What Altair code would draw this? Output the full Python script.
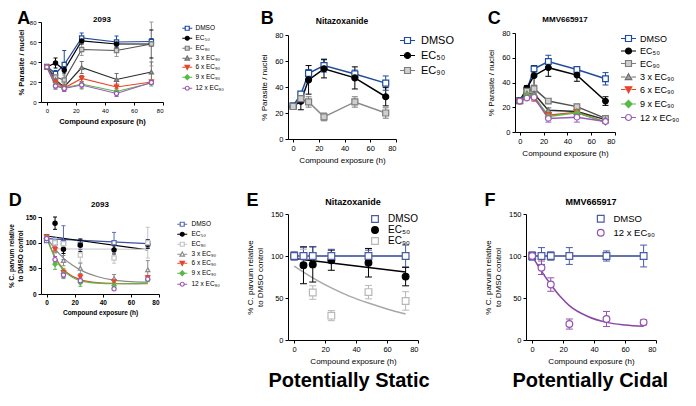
import altair as alt
import pandas as pd

FONT = "Liberation Sans"
T = [0, 6, 12, 24, 48, 72]
LABELS = {"DMSO": "DMSO", "EC50": "EC₅₀", "EC90": "EC₉₀", "3x": "3 x EC₉₀",
          "6x": "6 x EC₉₀", "9x": "9 x EC₉₀", "12x": "12 x EC₉₀"}

# ---------------- Panel A : 2093, % parasite / nuclei ----------------
A_DMSO = [35.5, 28.5, 37.5, 64, 60, 60.5]
A_DMSO_sd = [1.5, 3, 14, 5, 6, 3]
A_EC50 = [35, 39, 32, 61, 58, 58]
A_EC50_sd = [1.5, 5, 3, 3, 3, 14]
A_EC90 = [35, 25, 22, 52.5, 51.5, 58]
A_EC90_sd = [1.5, 3, 5, 6, 6, 22]
A_3x = [35, 22, 15, 34.5, 22.5, 30]
A_3x_sd = [1.5, 3, 3, 6, 6, 10]
A_6x = [35, 20, 14, 23.5, 15, 20]
A_6x_sd = [1.5, 4, 3, 3, 3, 2]
A_9x = [35, 17, 14, 18, 10.5, 19]
A_9x_sd = [1.5, 4, 3, 5, 3, 3]
A_12x = [35, 16, 13.5, 17, 8.5, 19.5]
A_12x_sd = [1.5, 3, 3, 3, 3, 2]

# ---------------- Panel B : Nitazoxanide, % parasite / nuclei ----------------
B_DMSO = [25.5, 34.5, 50.5, 56.5, 50, 43]
B_DMSO_sd = [1, 2, 3, 5, 3, 5.5]
B_EC50 = [25, 29, 45.5, 54, 47, 32.5]
B_EC50_sd = [1, 6.5, 11, 7, 8.5, 7]
B_EC90 = [25, 31, 28.5, 17, 28.5, 20]
B_EC90_sd = [1, 2, 4, 3, 4, 4]

# ---------------- Panel C : MMV665917, % parasite / nuclei ----------------
C_DMSO = [25.5, 34, 51, 57, 50.5, 43]
C_DMSO_sd = [1, 2, 2.5, 5, 2, 5]
C_EC50 = [25, 35.5, 45.5, 52, 46, 25]
C_EC50_sd = [1, 2, 8, 7, 5, 3.5]
C_EC90 = [25, 33, 35, 25, 20.5, 11]
C_EC90_sd = [1, 2, 3, 2, 2, 2]
C_3x = [25, 31, 31, 17.5, 16.5, 10]
C_3x_sd = [1, 2, 4, 2, 5, 2]
C_6x = [25, 29, 27, 13.5, 16, 8]
C_6x_sd = [1, 2, 2, 2, 2, 1]
C_9x = [25, 30, 29, 12.5, 15.5, 8]
C_9x_sd = [1, 2, 2, 2, 2, 1]
C_12x = [25, 27.5, 28, 11, 12, 8.5]
C_12x_sd = [1, 1.5, 2, 3, 4, 1]

# ---------------- Panel D : 2093, % relative to DMSO ----------------
D_DMSO = [104, 100, 100, 97, 100, 98]
D_DMSO_sd = [3, 10, 33, 10, 20, 8]
D_EC50 = [108, 138, 87, 95, 86, 97]
D_EC50_sd = [3, 12, 8, 12, 8, 8]
D_EC90 = [110, 100, 98, 76, 70, 100]
D_EC90_sd = [3, 8, 6, 14, 10, 30]
D_3x = [112, 85, 65, 50, 30, 47]
D_3x_sd = [3, 5, 10, 10, 8, 18]
D_6x = [112, 87, 42, 33, 24, 32]
D_6x_sd = [3, 5, 5, 5, 5, 4]
D_9x = [110, 58, 40, 22, 16, 28]
D_9x_sd = [3, 10, 10, 7, 4, 4]
D_12x = [108, 67, 37, 26, 10, 29]
D_12x_sd = [3, 6, 5, 5, 3, 3]
# fitted curves
D_fit_t_lin = [0, 72]
D_fit_DMSO = [108, 98]
D_fit_EC50 = [113, 86]
D_fit_t_ec90 = [6, 72]
D_fit_EC90 = [88, 87]
D_fit_t = [0, 6, 12, 18, 24, 36, 48, 60, 72]
D_fit_3x = [110, 88, 70, 57, 47, 34, 27, 24, 23]
D_fit_6x = [110, 72, 48, 35, 28, 22, 20.5, 20, 20]
D_fit_9x = [110, 70, 46, 33, 26, 21, 20, 20, 21]

# ---------------- Panel E : Nitazoxanide, relative ----------------
E_DMSO = [100, 100, 100, 100, 100, 100]
E_DMSO_sd = [5, 10, 11, 8, 7, 13]
E_EC50 = [100, 89, 90, 95, 92, 75.5]
E_EC50_sd = [3, 22, 21, 12, 17, 11]
E_EC90 = [100, 100, 56.5, 29, 57, 46.5]
E_EC90_sd = [3, 8, 8, 6, 8, 11]
E_fit_t_lin = [0, 72]
E_fit_DMSO = [100, 100]
E_fit_EC50 = [97, 81]
E_fit_t = [0, 12, 24, 36, 48, 60, 72]
E_fit_EC90 = [88, 74, 62, 52, 44, 37, 31]

# ---------------- Panel F : MMV665917, relative ----------------
F_DMSO = [100, 100, 100, 100, 100, 100]
F_DMSO_sd = [5, 10, 5, 10, 6, 13]
F_12x = [100, 86, 66, 19, 25, 21]
F_12x_sd = [4, 8, 8, 6, 9, 3]
F_fit_t_lin = [0, 72]
F_fit_DMSO = [100, 100]
F_fit_t = [0, 6, 12, 18, 24, 36, 48, 60, 72]
F_fit_12x = [100, 82, 66, 52, 41, 28, 21, 18, 16.5]


def pts_frame(keys, means, sds):
    rows = []
    for k, m, s in zip(keys, means, sds):
        for t, v, e in zip(T, m, s):
            rows.append({"t": t, "s": LABELS[k], "m": v, "lo": v - e, "hi": v + e})
    return pd.DataFrame(rows)


def curve_frame(keys, ts, ys):
    rows = []
    for k, tt, yy in zip(keys, ts, ys):
        for t, v in zip(tt, yy):
            rows.append({"t": t, "s": LABELS[k], "y": v})
    return pd.DataFrame(rows)


# ---------------- styles ----------------
def lp(marker):
    return "M-2.5,0H-1M1,0H2.5" + marker

SQ = "M-1,-1H1V1H-1Z"
CI = "M-1,0A1,1,0,1,0,1,0A1,1,0,1,0,-1,0Z"
TU = "M-1.1,0.9L0,-1.1L1.1,0.9Z"
TD = "M-1.1,-0.9L0,1.1L1.1,-0.9Z"
DI = "M-1.2,0L0,-1.2L1.2,0L0,1.2Z"

BLUE = "#1f4b9e"
STY_TOP = {
    "DMSO": dict(stroke=BLUE, fill="white", line=BLUE, err=BLUE, shape="square", leg=lp(SQ)),
    "EC50": dict(stroke="black", fill="black", line="black", err="black", shape="circle", leg=lp(CI)),
    "EC90": dict(stroke="#7d7d7d", fill="#cfcfcf", line="#505050", err="#9a9a9a", shape="square", leg=lp(SQ)),
    "3x": dict(stroke="#6e6e6e", fill="#a0a0a0", line="#2a2a2a", err="#6e6e6e", shape="triangle-up", leg=lp(TU)),
    "6x": dict(stroke="#e8452c", fill="#e8452c", line="#e8452c", err="#e8452c", shape="triangle-down", leg=lp(TD)),
    "9x": dict(stroke="#58b947", fill="#58b947", line="#58b947", err="#58b947", shape="diamond", leg=lp(DI)),
    "12x": dict(stroke="#9b5bb5", fill="white", line="#9b5bb5", err="#9b5bb5", shape="circle", leg=lp(CI)),
}
STY_D = dict(STY_TOP)
STY_D["DMSO"] = dict(stroke="#5b6bb0", fill="white", line="#3d4fa3", err="#5b6bb0", shape="square", leg=lp(SQ))
STY_D["EC90"] = dict(stroke="#c4c4c4", fill="white", line="#d0d0d0", err="#c4c4c4", shape="square", leg=lp(SQ))
STY_D["3x"] = dict(stroke="#8a8a8a", fill="white", line="#8a8a8a", err="#8a8a8a", shape="triangle-up", leg=lp(TU))
STY_B = dict(STY_TOP)
STY_B["EC90"] = dict(stroke="#7d7d7d", fill="#cfcfcf", line="#8a8a8a", err="#7d7d7d", shape="square", leg=lp(SQ))
STY_EF = {
    "DMSO": dict(stroke="#4a5aa8", fill="white", line="#2f4597", err="#4a5aa8", shape="square", leg="square"),
    "EC50": dict(stroke="black", fill="black", line="black", err="black", shape="circle", leg="circle"),
    "EC90": dict(stroke="#b8b8b8", fill="white", line="#a8a8a8", err="#b8b8b8", shape="square", leg="square"),
    "12x": dict(stroke="#9453ae", fill="white", line="#8a45a6", err="#9453ae", shape="circle", leg="circle"),
}


def panel(pts, cur, keys, sty, P):
    labs = [LABELS[k] for k in keys]

    def sc(attr):
        return alt.Scale(domain=labs, range=[sty[k][attr] for k in keys])

    xs = alt.Scale(domain=[-4, 80], nice=False, zero=False)
    ys = alt.Scale(domain=[0, P["ymax"]], nice=False, zero=False)
    common = dict(domainColor="black", tickColor="black", labelColor="black", titleColor="black",
                  grid=False, tickSize=3, domainWidth=1, tickWidth=1, labelOverlap=False,
                  labelFontSize=P["lfs"], titleFontSize=P["tfs"], titleFontWeight=P["tfw"],
                  labelFontWeight=P["lfw"], labelFont=FONT, titleFont=FONT, labelPadding=2)
    xax = alt.Axis(values=[0, 20, 40, 60, 80], title="Compound exposure (h)",
                   titlePadding=P["xtp"], **common)
    yax = alt.Axis(values=P["yvals"], title=P["ytitle"], titlePadding=P["ytp"], **common)

    def X():
        return alt.X("t:Q", scale=xs, axis=xax)

    def Y(f):
        return alt.Y(f, scale=ys, axis=yax)

    line = alt.Chart(cur).mark_line(strokeWidth=P["lw"], interpolate=P["interp"]).encode(
        X(), Y("y:Q"), color=alt.Color("s:N", scale=sc("line"), legend=None))
    base = alt.Chart(pts)
    rule = base.mark_rule(strokeWidth=1, opacity=1).encode(
        X(), Y("lo:Q"), y2="hi:Q", color=alt.Color("s:N", scale=sc("err"), legend=None))
    cap_lo = base.mark_tick(orient="horizontal", size=P["cap"], thickness=1, opacity=1).encode(
        X(), Y("lo:Q"), color=alt.Color("s:N", scale=sc("err"), legend=None))
    cap_hi = base.mark_tick(orient="horizontal", size=P["cap"], thickness=1, opacity=1).encode(
        X(), Y("hi:Q"), color=alt.Color("s:N", scale=sc("err"), legend=None))
    points = base.mark_point(filled=True, size=P["ps"], strokeWidth=1.2, opacity=1).encode(
        X(), Y("m:Q"),
        stroke=alt.Stroke("s:N", scale=sc("stroke"), legend=None),
        fill=alt.Fill("s:N", scale=sc("fill"), legend=None),
        shape=alt.Shape("s:N", scale=sc("shape"), legend=None))
    leg = alt.Legend(title=None, orient=P["lorient"], offset=P["loff"], padding=P["lpad"],
                     labelFontSize=P["lgfs"], labelFont=FONT, labelColor="black",
                     symbolSize=P["lsz"], symbolStrokeWidth=1.2, labelOffset=P["llo"],
                     rowPadding=P["lrp"], symbolOpacity=1)
    legend_layer = base.mark_point(filled=True, strokeWidth=1.2, opacity=1).encode(
        X(), Y("m:Q"),
        stroke=alt.Stroke("s:N", scale=sc("stroke"), legend=leg),
        fill=alt.Fill("s:N", scale=sc("fill"), legend=leg),
        shape=alt.Shape("s:N", scale=sc("leg"), legend=leg)).transform_filter("false")

    ch = alt.layer(line, rule, cap_lo, cap_hi, points, legend_layer).resolve_scale(
        color="independent", stroke="independent", fill="independent", shape="independent"
    ).properties(
        width=P["w"], height=P["h"],
        title=alt.TitleParams(P["title"], fontSize=P["ttfs"], fontWeight="bold", font=FONT,
                              offset=P["toff"], anchor="middle", frame="group", color="black"))
    return ch


def spacer(h):
    return alt.Chart(pd.DataFrame({"v": [0]})).mark_point(opacity=0).encode(
        x=alt.value(0), y=alt.value(0)).properties(width=1, height=h)


def lettered(ch, letter, gap, off=-18):
    return alt.vconcat(spacer(gap), ch, spacing=0,
                       title=alt.TitleParams(letter, anchor="start", fontSize=18, fontWeight="bold",
                                             font=FONT, offset=off, frame="bounds", color="black"))


RES = dict(color="independent", stroke="independent", fill="independent", shape="independent")

top_keys = ["DMSO", "EC50", "EC90", "3x", "6x", "9x", "12x"]

# ----- A -----
pA = pts_frame(top_keys, [A_DMSO, A_EC50, A_EC90, A_3x, A_6x, A_9x, A_12x],
               [A_DMSO_sd, A_EC50_sd, A_EC90_sd, A_3x_sd, A_6x_sd, A_9x_sd, A_12x_sd])
cA = pA.rename(columns={"m": "y"})[["t", "s", "y"]]
PA = dict(w=122, h=80, ymax=80, yvals=[0, 20, 40, 60, 80], ytitle="% Parasite / nuclei",
          lfs=6, tfs=7.5, tfw="bold", lfw="normal", xtp=4, ytp=4, lw=1.2, interp="linear",
          cap=4, ps=18, lorient="right", loff=18, lpad=3, lgfs=6.5, lsz=16, llo=5, lrp=0,
          title="2093", ttfs=8, toff=-5)
chA = lettered(panel(pA, cA, top_keys, STY_TOP, PA), "A", 0.5)

# ----- B -----
b_keys = ["DMSO", "EC50", "EC90"]
pB = pts_frame(b_keys, [B_DMSO, B_EC50, B_EC90], [B_DMSO_sd, B_EC50_sd, B_EC90_sd])
cB = pB.rename(columns={"m": "y"})[["t", "s", "y"]]
PB = dict(w=108, h=104, ymax=80, yvals=[0, 20, 40, 60, 80], ytitle="% Parasite / nuclei",
          lfs=7.5, tfs=8, tfw="normal", lfw="normal", xtp=5, ytp=6, lw=1.5, interp="linear",
          cap=6, ps=36, lorient="right", loff=6, lpad=0, lgfs=11, lsz=36, llo=8, lrp=3,
          title="Nitazoxanide", ttfs=8.5, toff=6)
chB = lettered(panel(pB, cB, b_keys, STY_B, PB), "B", 1)

# ----- C -----
pC = pts_frame(top_keys, [C_DMSO, C_EC50, C_EC90, C_3x, C_6x, C_9x, C_12x],
               [C_DMSO_sd, C_EC50_sd, C_EC90_sd, C_3x_sd, C_6x_sd, C_9x_sd, C_12x_sd])
cC = pC.rename(columns={"m": "y"})[["t", "s", "y"]]
PC = dict(w=100, h=99, ymax=80, yvals=[0, 20, 40, 60, 80], ytitle="% Parasite / nuclei",
          lfs=7.5, tfs=8, tfw="normal", lfw="normal", xtp=5, ytp=6, lw=1.5, interp="linear",
          cap=6, ps=32, lorient="right", loff=8, lpad=1, lgfs=9, lsz=36, llo=7, lrp=1.5,
          title="MMV665917", ttfs=8, toff=5)
chC = lettered(panel(pC, cC, top_keys, STY_TOP, PC), "C", 3)

# ----- D -----
pD = pts_frame(top_keys, [D_DMSO, D_EC50, D_EC90, D_3x, D_6x, D_9x, D_12x],
               [D_DMSO_sd, D_EC50_sd, D_EC90_sd, D_3x_sd, D_6x_sd, D_9x_sd, D_12x_sd])
cD = curve_frame(["DMSO", "EC50", "EC90", "3x", "6x", "9x"],
                 [D_fit_t_lin, D_fit_t_lin, D_fit_t_ec90, D_fit_t, D_fit_t, D_fit_t],
                 [D_fit_DMSO, D_fit_EC50, D_fit_EC90, D_fit_3x, D_fit_6x, D_fit_9x])
PD = dict(w=118, h=77, ymax=150, yvals=[0, 50, 100, 150],
          ytitle=["% C. parvum relative", "to DMSO control"],
          lfs=6.5, tfs=6.5, tfw="bold", lfw="bold", xtp=4, ytp=2, lw=1.2, interp="monotone",
          cap=4, ps=18, lorient="right", loff=16, lpad=4, lgfs=6.5, lsz=16, llo=6, lrp=0,
          title="2093", ttfs=8, toff=5)
chD = lettered(panel(pD, cD, top_keys, STY_D, PD), "D", 6)

# ----- E -----
pE = pts_frame(["EC90", "EC50", "DMSO"], [E_EC90, E_EC50, E_DMSO], [E_EC90_sd, E_EC50_sd, E_DMSO_sd])
cE = curve_frame(["DMSO", "EC50", "EC90"], [E_fit_t_lin, E_fit_t_lin, E_fit_t],
                 [E_fit_DMSO, E_fit_EC50, E_fit_EC90])
PE = dict(w=130, h=126, ymax=150, yvals=[0, 50, 100, 150],
          ytitle=["% C. parvum relative", "to DMSO control"],
          lfs=7.5, tfs=8, tfw="normal", lfw="normal", xtp=5, ytp=6, lw=1.5, interp="monotone",
          cap=7, ps=45, lorient="top-right", loff=0, lpad=0, lgfs=10, lsz=45, llo=8, lrp=-2,
          title="Nitazoxanide", ttfs=9, toff=3)
chE = lettered(panel(pE, cE, ["DMSO", "EC50", "EC90"], STY_EF, PE), "E", 1)
chE = alt.vconcat(chE, title=alt.TitleParams("Potentially Static", orient="bottom", fontSize=20,
                                              fontWeight="bold", font=FONT, offset=5, dx=22,
                                              color="black"))

# ----- F -----
pF = pts_frame(["DMSO", "12x"], [F_DMSO, F_12x], [F_DMSO_sd, F_12x_sd])
cF = curve_frame(["DMSO", "12x"], [F_fit_t_lin, F_fit_t], [F_fit_DMSO, F_fit_12x])
PF = dict(w=130, h=126, ymax=150, yvals=[0, 50, 100, 150],
          ytitle=["% C. parvum relative", "to DMSO control"],
          lfs=7.5, tfs=8, tfw="normal", lfw="normal", xtp=5, ytp=6, lw=1.5, interp="monotone",
          cap=7, ps=45, lorient="top-right", loff=0, lpad=0, lgfs=9.5, lsz=45, llo=8, lrp=1,
          title="MMV665917", ttfs=9, toff=3)
chF = lettered(panel(pF, cF, ["DMSO", "12x"], STY_EF, PF), "F", 1)
chF = alt.vconcat(chF, title=alt.TitleParams("Potentially Cidal", orient="bottom", fontSize=20,
                                              fontWeight="bold", font=FONT, offset=5, dx=28,
                                              color="black"))

row1 = alt.hconcat(alt.hconcat(chA, chB, spacing=33).resolve_scale(**RES), chC,
                   spacing=33).resolve_scale(**RES)
row2 = alt.hconcat(alt.hconcat(chD, chE, spacing=22).resolve_scale(**RES), chF,
                   spacing=54).resolve_scale(**RES)

chart = alt.vconcat(row1, row2, spacing=27).resolve_scale(**RES).properties(
    padding={"left": 0, "top": 2, "right": 0, "bottom": 0}
).configure(font=FONT).configure_view(stroke=None).configure_axis(labelOverlap=False)

chart.save("out.html", embed_options={"renderer": "svg", "actions": False})
